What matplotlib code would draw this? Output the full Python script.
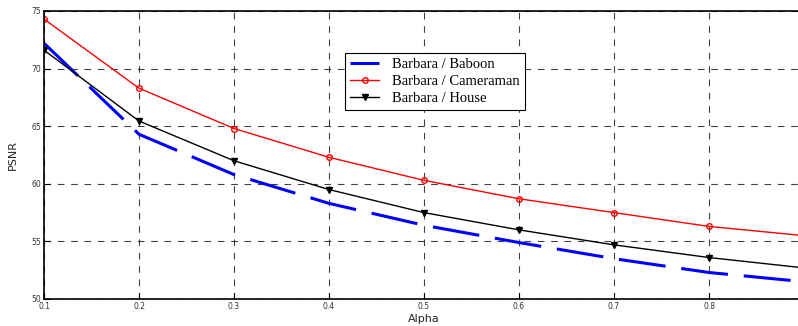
import matplotlib
matplotlib.use("Agg")
import matplotlib.pyplot as plt

alpha = [0.1, 0.2, 0.3, 0.4, 0.5, 0.6, 0.7, 0.8, 0.9]
baboon = [72.2, 64.3, 60.8, 58.3, 56.4, 54.9, 53.5, 52.3, 51.5]
cameraman = [74.3, 68.3, 64.8, 62.3, 60.3, 58.7, 57.5, 56.3, 55.5]
house = [71.6, 65.45, 62.0, 59.5, 57.5, 56.0, 54.7, 53.6, 52.7]

fig = plt.figure(figsize=(7.98, 3.26), dpi=100)
ax = fig.add_axes([44 / 798, 1 - 299 / 326, 760 / 798, 288 / 326])

ax.plot(alpha, baboon, color="blue", lw=2.2, dashes=(15.4, 5.2), label="Barbara / Baboon")
ax.plot(alpha, cameraman, color="red", lw=1, marker="o", ms=4, mfc="none",
        mew=1, label="Barbara / Cameraman")
ax.plot(alpha, house, color="black", lw=1, marker="v", ms=4, label="Barbara / House")

ax.set_xlim(0.1, 0.9)
ax.set_ylim(50, 75)
ax.set_xticks(alpha)
ax.set_xticklabels(["0.1", "0.2", "0.3", "0.4", "0.5", "0.6", "0.7", "0.8", "0.9"])
ax.set_yticks([50, 55, 60, 65, 70, 75])
ax.tick_params(direction="in", labelsize=5.5, length=4, pad=2, labelcolor="#333333")
ax.grid(True, color="black", ls=(0, (6, 6)), lw=0.8, alpha=0.75)
for s in ax.spines.values():
    s.set_linewidth(1.2)

ax.set_xlabel("Alpha", fontsize=8, labelpad=2, color="#222222")
ax.set_ylabel("PSNR", fontsize=8, labelpad=10, color="#222222")

leg = ax.legend(loc="upper left", bbox_to_anchor=(301 / 760, 1 - 42 / 288),
                prop={"family": "Liberation Serif", "size": 10.5},
                fancybox=False, framealpha=1, edgecolor="black",
                handlelength=2.0, handletextpad=0.9, borderpad=0.35,
                labelspacing=0.25, borderaxespad=0)
leg.get_frame().set_linewidth(0.8)

fig.savefig("out.png", dpi=100)
